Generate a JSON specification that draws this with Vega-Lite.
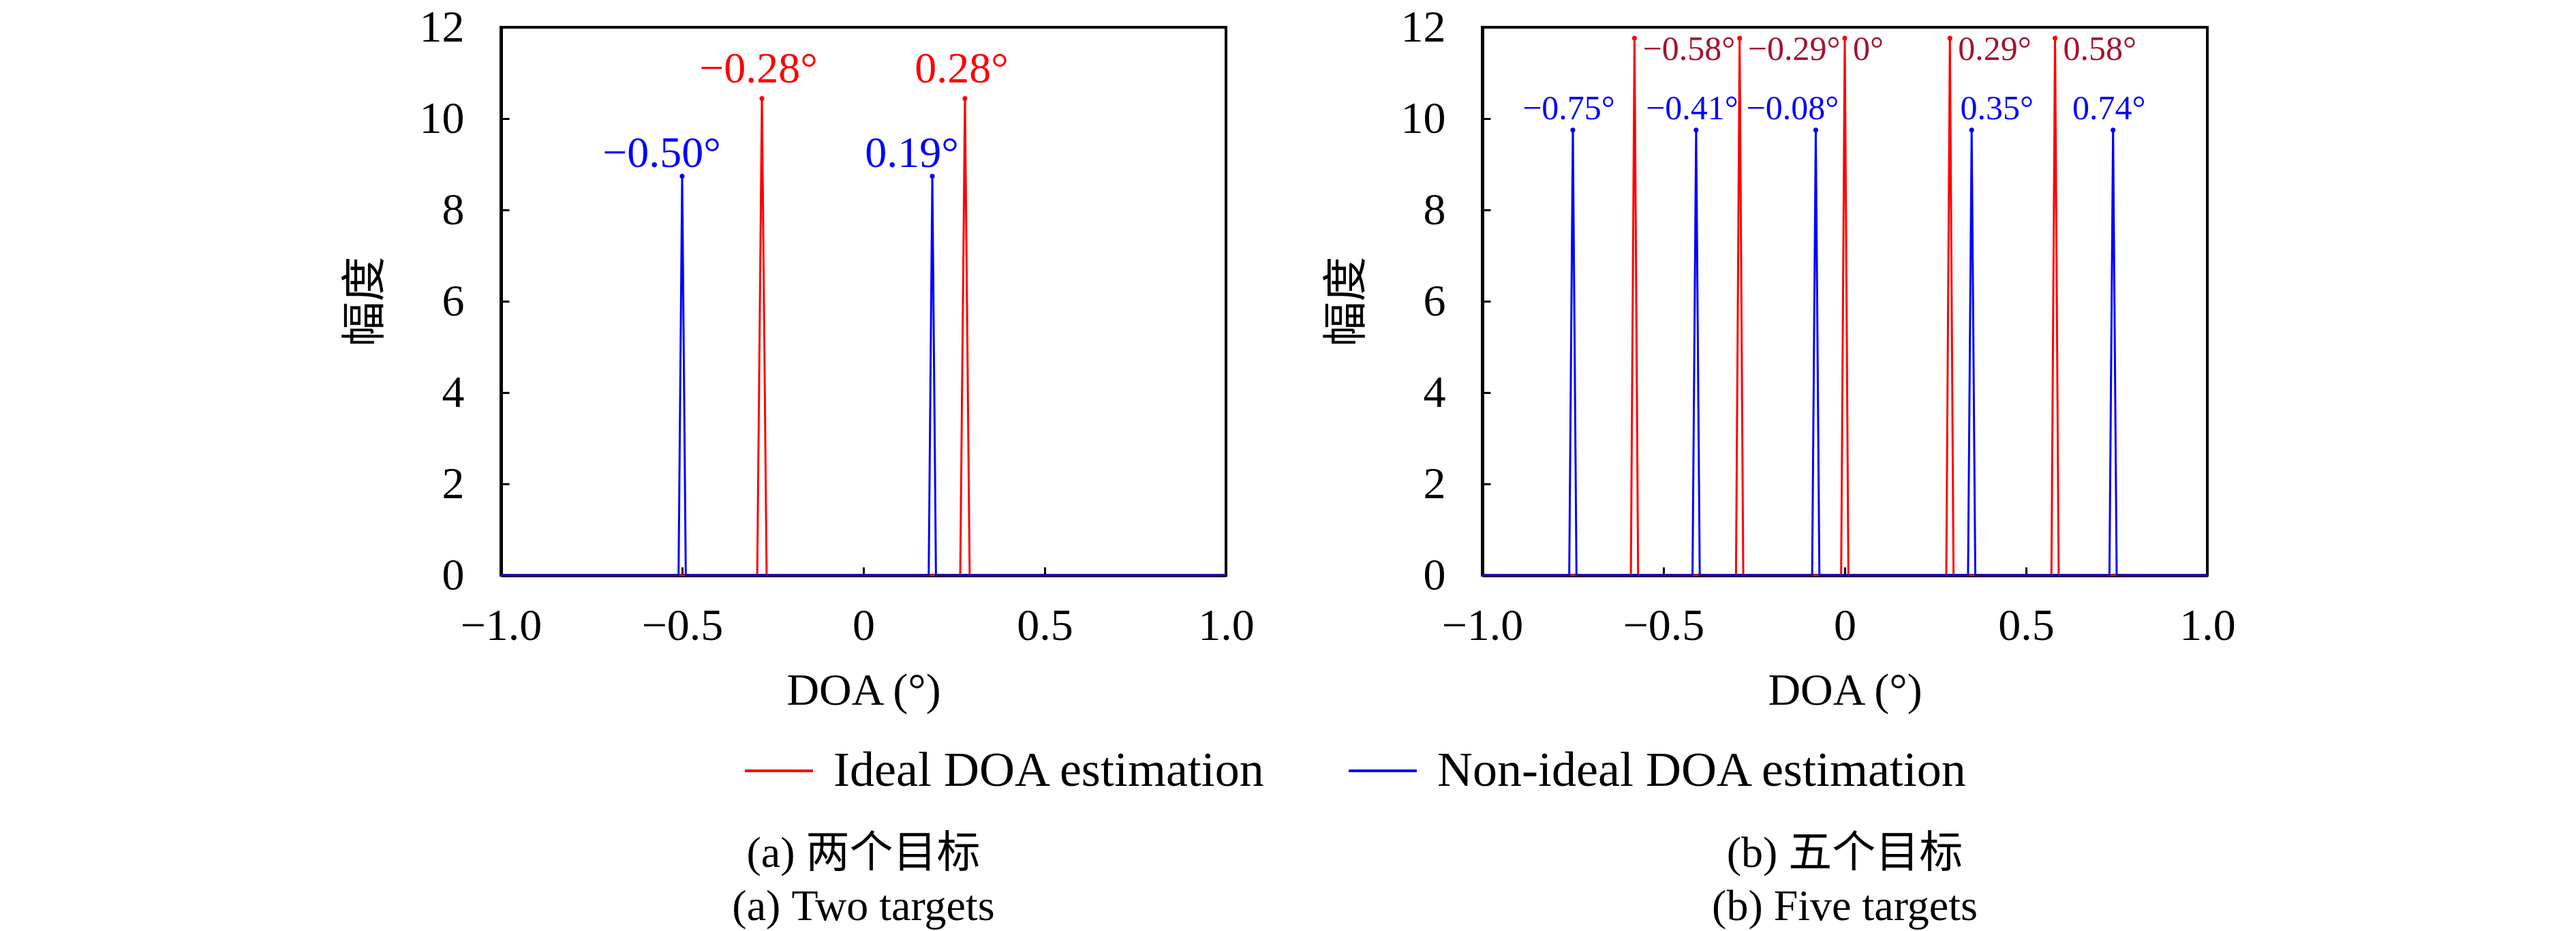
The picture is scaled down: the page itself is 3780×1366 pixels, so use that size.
{
  "$schema": "https://vega.github.io/schema/vega-lite/v6.json",
  "description": "DOA estimation spectra, two and five targets",
  "background": "white",
  "padding": {"left": 501, "top": 5, "right": 20, "bottom": 0},
  "config": {
    "font": "'Liberation Serif', 'Noto Sans CJK SC'",
    "view": {"stroke": "black", "strokeWidth": 4},
    "axis": {
      "grid": false,
      "domainColor": "black",
      "domainWidth": 5,
      "tickColor": "black",
      "tickWidth": 3,
      "tickSize": -12,
      "labelFontSize": 66,
      "labelColor": "black",
      "titleFontSize": 66,
      "titleFontWeight": "normal",
      "titleColor": "black",
      "labelFlush": false,
      "labelOverlap": false,
      "zindex": 1
    },
    "title": {"fontSize": 64, "fontWeight": "normal", "color": "black"}
  },
  "datasets": {
    "a_curve": [
      {"series": "Ideal DOA estimation", "doa": -1.0, "amp": 0},
      {"series": "Ideal DOA estimation", "doa": -0.293, "amp": 0},
      {"series": "Ideal DOA estimation", "doa": -0.28, "amp": 10.44},
      {"series": "Ideal DOA estimation", "doa": -0.267, "amp": 0},
      {"series": "Ideal DOA estimation", "doa": 0.267, "amp": 0},
      {"series": "Ideal DOA estimation", "doa": 0.28, "amp": 10.44},
      {"series": "Ideal DOA estimation", "doa": 0.293, "amp": 0},
      {"series": "Ideal DOA estimation", "doa": 1.0, "amp": 0},
      {"series": "Non-ideal DOA estimation", "doa": -1.0, "amp": 0},
      {"series": "Non-ideal DOA estimation", "doa": -0.51, "amp": 0},
      {"series": "Non-ideal DOA estimation", "doa": -0.50, "amp": 8.74},
      {"series": "Non-ideal DOA estimation", "doa": -0.49, "amp": 0},
      {"series": "Non-ideal DOA estimation", "doa": 0.18, "amp": 0},
      {"series": "Non-ideal DOA estimation", "doa": 0.19, "amp": 8.74},
      {"series": "Non-ideal DOA estimation", "doa": 0.20, "amp": 0},
      {"series": "Non-ideal DOA estimation", "doa": 1.0, "amp": 0}
    ],
    "a_peaks": [
      {"series": "Ideal DOA estimation", "doa": -0.28, "amp": 10.44, "label": "−0.28°"},
      {"series": "Ideal DOA estimation", "doa": 0.28, "amp": 10.44, "label": "0.28°"},
      {"series": "Non-ideal DOA estimation", "doa": -0.50, "amp": 8.74, "label": "−0.50°"},
      {"series": "Non-ideal DOA estimation", "doa": 0.19, "amp": 8.74, "label": "0.19°"}
    ],
    "b_curve": [
      {"series": "Ideal DOA estimation", "doa": -1.0, "amp": 0},
      {"series": "Ideal DOA estimation", "doa": -0.59, "amp": 0},
      {"series": "Ideal DOA estimation", "doa": -0.58, "amp": 11.76},
      {"series": "Ideal DOA estimation", "doa": -0.57, "amp": 0},
      {"series": "Ideal DOA estimation", "doa": -0.30, "amp": 0},
      {"series": "Ideal DOA estimation", "doa": -0.29, "amp": 11.76},
      {"series": "Ideal DOA estimation", "doa": -0.28, "amp": 0},
      {"series": "Ideal DOA estimation", "doa": -0.01, "amp": 0},
      {"series": "Ideal DOA estimation", "doa": 0.0, "amp": 11.76},
      {"series": "Ideal DOA estimation", "doa": 0.01, "amp": 0},
      {"series": "Ideal DOA estimation", "doa": 0.28, "amp": 0},
      {"series": "Ideal DOA estimation", "doa": 0.29, "amp": 11.76},
      {"series": "Ideal DOA estimation", "doa": 0.30, "amp": 0},
      {"series": "Ideal DOA estimation", "doa": 0.57, "amp": 0},
      {"series": "Ideal DOA estimation", "doa": 0.58, "amp": 11.76},
      {"series": "Ideal DOA estimation", "doa": 0.59, "amp": 0},
      {"series": "Ideal DOA estimation", "doa": 1.0, "amp": 0},
      {"series": "Non-ideal DOA estimation", "doa": -1.0, "amp": 0},
      {"series": "Non-ideal DOA estimation", "doa": -0.76, "amp": 0},
      {"series": "Non-ideal DOA estimation", "doa": -0.75, "amp": 9.75},
      {"series": "Non-ideal DOA estimation", "doa": -0.74, "amp": 0},
      {"series": "Non-ideal DOA estimation", "doa": -0.42, "amp": 0},
      {"series": "Non-ideal DOA estimation", "doa": -0.41, "amp": 9.75},
      {"series": "Non-ideal DOA estimation", "doa": -0.40, "amp": 0},
      {"series": "Non-ideal DOA estimation", "doa": -0.09, "amp": 0},
      {"series": "Non-ideal DOA estimation", "doa": -0.08, "amp": 9.75},
      {"series": "Non-ideal DOA estimation", "doa": -0.07, "amp": 0},
      {"series": "Non-ideal DOA estimation", "doa": 0.34, "amp": 0},
      {"series": "Non-ideal DOA estimation", "doa": 0.35, "amp": 9.75},
      {"series": "Non-ideal DOA estimation", "doa": 0.36, "amp": 0},
      {"series": "Non-ideal DOA estimation", "doa": 0.73, "amp": 0},
      {"series": "Non-ideal DOA estimation", "doa": 0.74, "amp": 9.75},
      {"series": "Non-ideal DOA estimation", "doa": 0.75, "amp": 0},
      {"series": "Non-ideal DOA estimation", "doa": 1.0, "amp": 0}
    ],
    "b_peaks": [
      {"series": "Ideal DOA estimation", "doa": -0.58, "amp": 11.76, "label": "−0.58°"},
      {"series": "Ideal DOA estimation", "doa": -0.29, "amp": 11.76, "label": "−0.29°"},
      {"series": "Ideal DOA estimation", "doa": 0.0, "amp": 11.76, "label": "0°"},
      {"series": "Ideal DOA estimation", "doa": 0.29, "amp": 11.76, "label": "0.29°"},
      {"series": "Ideal DOA estimation", "doa": 0.58, "amp": 11.76, "label": "0.58°"},
      {"series": "Non-ideal DOA estimation", "doa": -0.75, "amp": 9.75, "label": "−0.75°"},
      {"series": "Non-ideal DOA estimation", "doa": -0.41, "amp": 9.75, "label": "−0.41°"},
      {"series": "Non-ideal DOA estimation", "doa": -0.08, "amp": 9.75, "label": "−0.08°"},
      {"series": "Non-ideal DOA estimation", "doa": 0.35, "amp": 9.75, "label": "0.35°"},
      {"series": "Non-ideal DOA estimation", "doa": 0.74, "amp": 9.75, "label": "0.74°"}
    ]
  },
  "resolve": {"scale": {"color": "shared"}, "legend": {"color": "shared"}},
  "spacing": 98,
  "hconcat": [
    {
      "width": 1064,
      "height": 804,
      "title": {
        "text": ["(a) 两个目标", "(a) Two targets"],
        "orient": "bottom",
        "anchor": "middle",
        "frame": "group",
        "lineHeight": 78,
        "offset": 175
      },
      "encoding": {
        "x": {
          "field": "doa",
          "type": "quantitative",
          "scale": {"domain": [-1, 1], "nice": false},
          "axis": {
            "title": "DOA (°)",
            "values": [-1, -0.5, 0, 0.5, 1],
            "labelExpr": "datum.value == 0 ? '0' : format(datum.value, '.1f')",
            "labelPadding": 54,
            "titlePadding": 30
          }
        },
        "y": {
          "field": "amp",
          "type": "quantitative",
          "scale": {"domain": [0, 12], "nice": false},
          "axis": {
            "title": "幅度",
            "values": [0, 2, 4, 6, 8, 10, 12],
            "labelPadding": 66,
            "titlePadding": 45
          }
        }
      },
      "layer": [
        {
          "data": {"name": "a_curve"},
          "mark": {"type": "line", "strokeWidth": 3},
          "encoding": {
            "color": {
              "field": "series",
              "type": "nominal",
              "scale": {
                "domain": ["Ideal DOA estimation", "Non-ideal DOA estimation"],
                "range": ["#ff0000", "#0000ff"]
              },
              "legend": {
                "title": null,
                "orient": "none",
                "direction": "horizontal",
                "legendX": 356,
                "legendY": 1039,
                "symbolType": "stroke",
                "symbolSize": 10000,
                "symbolStrokeWidth": 4,
                "labelFontSize": 72,
                "labelColor": "black",
                "labelLimit": 1200,
                "labelOffset": 28,
                "columnPadding": 112
              }
            }
          }
        },
        {
          "data": {"name": "a_peaks"},
          "transform": [{"filter": "datum.series == 'Ideal DOA estimation'"}],
          "layer": [
            {"mark": {"type": "point", "filled": true, "size": 50, "color": "#ff0000", "opacity": 1}},
            {
              "mark": {"type": "text", "color": "#ff0000", "fontSize": 64, "align": "center", "baseline": "alphabetic", "dx": -5, "dy": -24},
              "encoding": {"text": {"field": "label"}}
            }
          ]
        },
        {
          "data": {"name": "a_peaks"},
          "transform": [{"filter": "datum.series == 'Non-ideal DOA estimation'"}],
          "layer": [
            {"mark": {"type": "point", "filled": true, "size": 50, "color": "#0000ff", "opacity": 1}},
            {
              "mark": {"type": "text", "color": "#0000ff", "fontSize": 64, "align": "center", "baseline": "alphabetic", "dx": -30, "dy": -13},
              "encoding": {"text": {"field": "label"}}
            }
          ]
        }
      ]
    },
    {
      "width": 1064,
      "height": 804,
      "title": {
        "text": ["(b) 五个目标", "(b) Five targets"],
        "orient": "bottom",
        "anchor": "middle",
        "frame": "group",
        "lineHeight": 78,
        "offset": 175
      },
      "encoding": {
        "x": {
          "field": "doa",
          "type": "quantitative",
          "scale": {"domain": [-1, 1], "nice": false},
          "axis": {
            "title": "DOA (°)",
            "values": [-1, -0.5, 0, 0.5, 1],
            "labelExpr": "datum.value == 0 ? '0' : format(datum.value, '.1f')",
            "labelPadding": 54,
            "titlePadding": 30
          }
        },
        "y": {
          "field": "amp",
          "type": "quantitative",
          "scale": {"domain": [0, 12], "nice": false},
          "axis": {
            "title": "幅度",
            "values": [0, 2, 4, 6, 8, 10, 12],
            "labelPadding": 66,
            "titlePadding": 45
          }
        }
      },
      "layer": [
        {
          "data": {"name": "b_curve"},
          "mark": {"type": "line", "strokeWidth": 3},
          "encoding": {
            "color": {"field": "series", "type": "nominal"}
          }
        },
        {
          "data": {"name": "b_peaks"},
          "transform": [{"filter": "datum.series == 'Ideal DOA estimation'"}],
          "layer": [
            {"mark": {"type": "point", "filled": true, "size": 50, "color": "#ff0000", "opacity": 1}},
            {
              "mark": {"type": "text", "color": "#a2142f", "fontSize": 50, "align": "left", "baseline": "top", "dx": 12, "dy": -8},
              "encoding": {"text": {"field": "label"}}
            }
          ]
        },
        {
          "data": {"name": "b_peaks"},
          "transform": [{"filter": "datum.series == 'Non-ideal DOA estimation'"}],
          "layer": [
            {"mark": {"type": "point", "filled": true, "size": 50, "color": "#0000ff", "opacity": 1}},
            {
              "transform": [{"filter": "datum.doa != -0.08 && datum.doa != 0.35"}],
              "mark": {"type": "text", "color": "#0000ff", "fontSize": 50, "align": "center", "baseline": "alphabetic", "dx": -6, "dy": -16},
              "encoding": {"text": {"field": "label"}}
            },
            {
              "transform": [{"filter": "datum.doa == -0.08"}],
              "mark": {"type": "text", "color": "#0000ff", "fontSize": 50, "align": "center", "baseline": "alphabetic", "dx": -34, "dy": -16},
              "encoding": {"text": {"field": "label"}}
            },
            {
              "transform": [{"filter": "datum.doa == 0.35"}],
              "mark": {"type": "text", "color": "#0000ff", "fontSize": 50, "align": "center", "baseline": "alphabetic", "dx": 37, "dy": -16},
              "encoding": {"text": {"field": "label"}}
            }
          ]
        }
      ]
    }
  ]
}
